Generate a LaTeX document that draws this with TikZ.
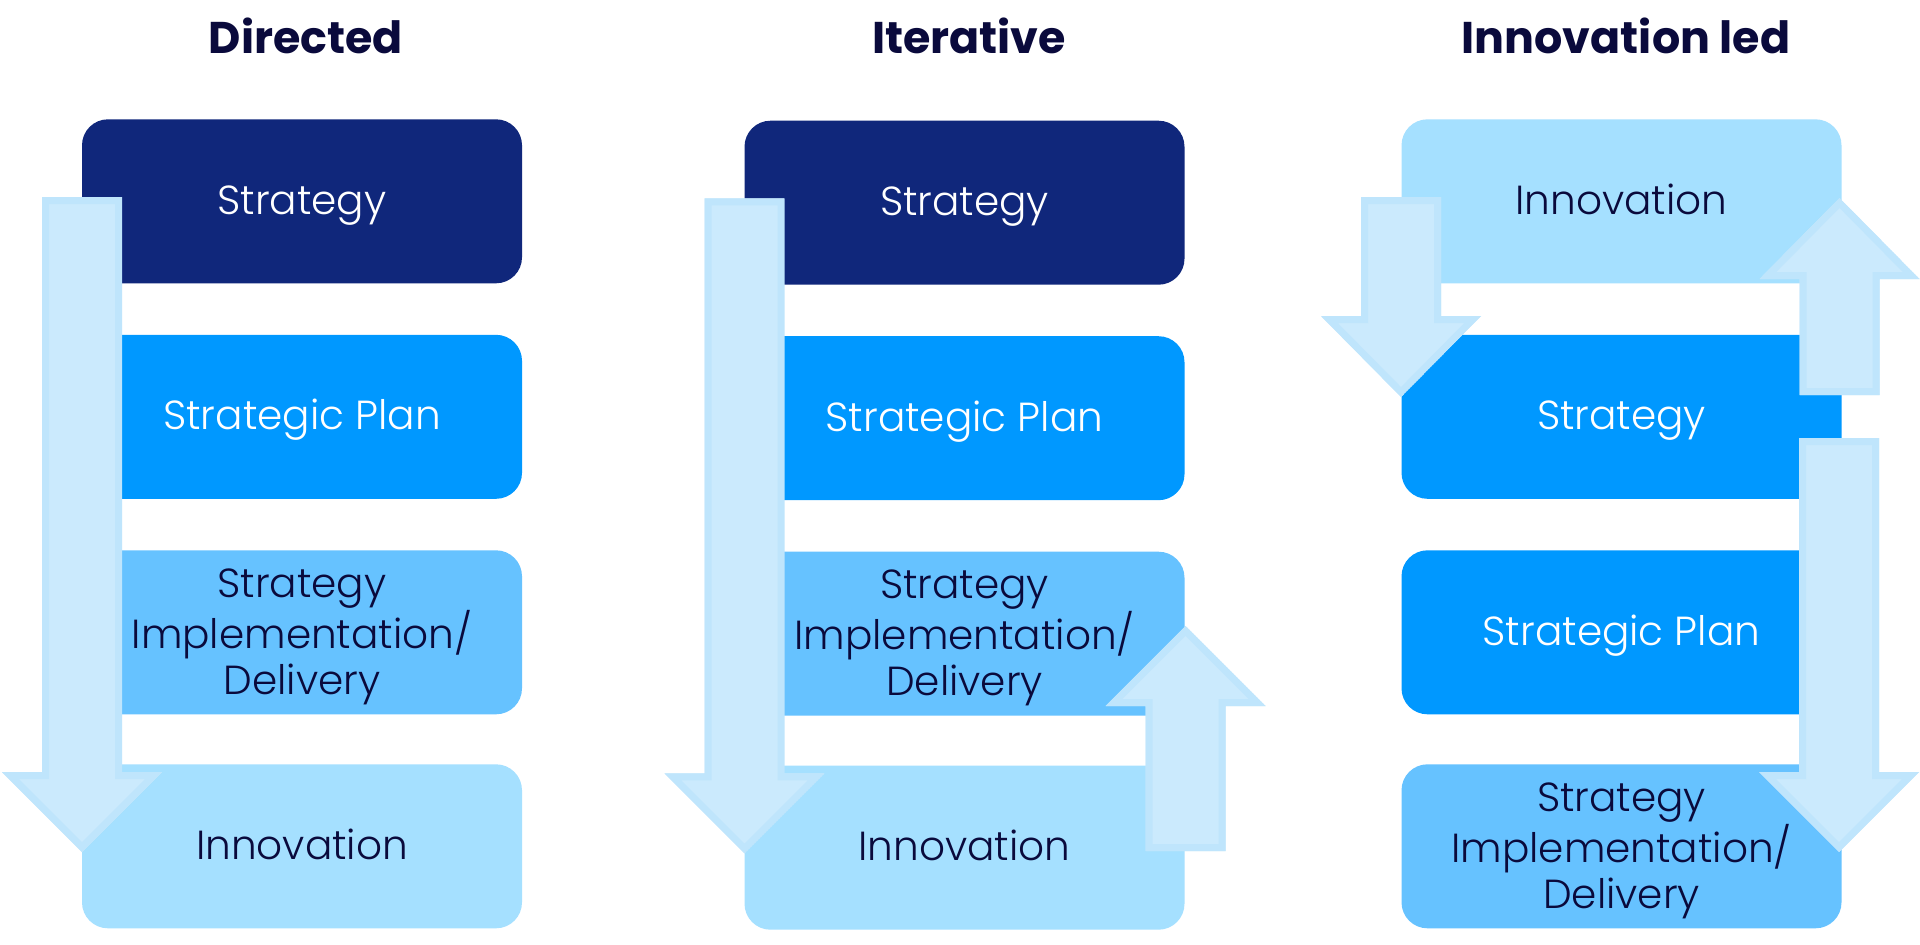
\documentclass[tikz,border=0pt]{standalone}
\usepackage{fontspec}
\setmainfont{Poppins}[UprightFont=* Light,BoldFont=* Bold]
\definecolor{navy}{RGB}{16,39,123}
\definecolor{planblue}{RGB}{0,152,255}
\definecolor{sidblue}{RGB}{102,194,255}
\definecolor{innoblue}{RGB}{165,224,255}
\definecolor{ink}{RGB}{10,10,60}
\definecolor{arrowin}{RGB}{203,234,253}
\definecolor{arrowout}{RGB}{191,229,252}
\newcommand\threelines[3]{\vtop{\hbox{\makebox[0pt]{#1}}\hbox{\makebox[0pt]{#2}}\hbox{\makebox[0pt]{#3}}}}
% x, tail y, head base y, tip y
\newcommand\blkarrow[4]{%
  \begin{scope}
    \clip ({#1-40},#2) -- ({#1+40},#2) -- ({#1+40},#3) -- ({#1+80},#3) -- (#1,#4) -- ({#1-80},#3) -- ({#1-40},#3) -- cycle;
    \filldraw[fill=arrowin,draw=arrowout,line width=7pt,line join=miter]
      ({#1-40},#2) -- ({#1+40},#2) -- ({#1+40},#3) -- ({#1+80},#3) -- (#1,#4) -- ({#1-80},#3) -- ({#1-40},#3) -- cycle;
  \end{scope}}
\begin{document}
\begin{tikzpicture}[x=0.5pt,y=-0.5pt,
  box/.style={minimum width=220pt,minimum height=82pt,rounded corners=13pt,inner sep=0pt,
    font=\fontsize{20.3pt}{23pt}\selectfont,text height=13pt,text depth=0pt},
  darkbox/.style={box,fill=navy,text=white},
  planbox/.style={box,fill=planblue,text=white},
  sidbox/.style={box,fill=sidblue,text=ink,text height=0pt,text depth=35pt},
  innobox/.style={box,fill=innoblue,text=ink},
  title/.style={anchor=base,inner sep=0pt,text=ink,font=\fontsize{22.2pt}{26pt}\selectfont\bfseries}]
\useasboundingbox (0,0) rectangle (1920,944);
\fill[white] (0,0) rectangle (1920,944);
% titles
\node[title] (h1) at (306,53) {Directed};
\node[title] (h2) at (969,53) {Iterative};
\node[title] (h3) at (1626,53) {Innovation led};
% column 1
\node[darkbox] (a1) at (302,201.3) {Strategy};
\node[planbox] (a2) at (302,416.8) {Strategic Plan};
\node[sidbox] (a3) at (302,632.3) {\threelines{Strategy}{Implementation/}{Delivery}};
\node[innobox] (a4) at (302,846.3) {Innovation};
% column 2
\node[darkbox] (b1) at (964.5,202.7) {Strategy};
\node[planbox] (b2) at (964.5,418.2) {Strategic Plan};
\node[sidbox] (b3) at (964.5,633.7) {\threelines{Strategy}{Implementation/}{Delivery}};
\node[innobox] (b4) at (964.5,847.7) {Innovation};
% column 3
\node[innobox] (c1) at (1621.5,201.3) {Innovation};
\node[planbox] (c2) at (1621.5,416.8) {Strategy};
\node[planbox] (c3) at (1621.5,632.3) {Strategic Plan};
\node[sidbox] (c4) at (1621.5,846.3) {\threelines{Strategy}{Implementation/}{Delivery}};
% arrows
\blkarrow{82}{197}{772}{852}
\blkarrow{744.5}{198.4}{773.4}{853.4}
\blkarrow{1185.5}{851}{706}{626}
\blkarrow{1401}{197}{316}{397}
\blkarrow{1839.5}{395}{279}{198}
\blkarrow{1839}{438}{772}{852}
\end{tikzpicture}
\end{document}
